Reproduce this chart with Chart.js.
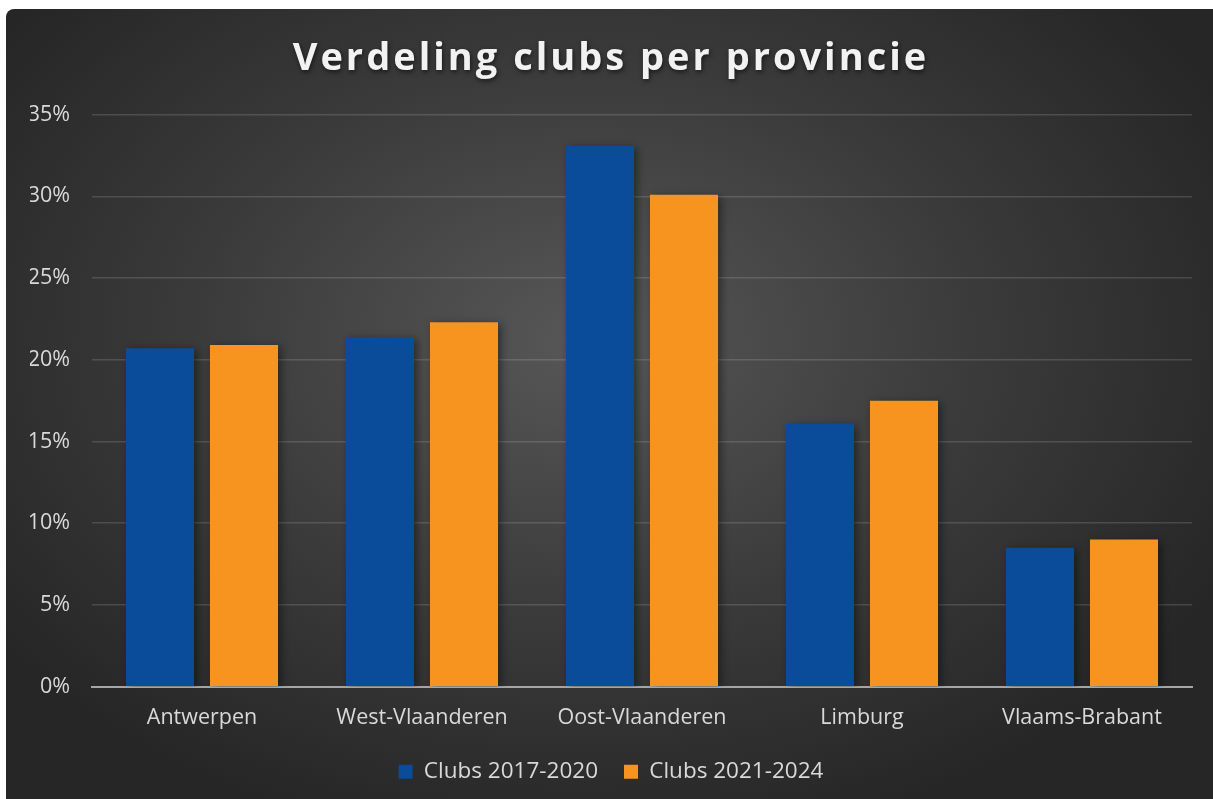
<!DOCTYPE html>
<html>
<head>
<meta charset="utf-8">
<script src="https://cdn.jsdelivr.net/npm/chart.js@4/dist/chart.umd.min.js"></script>
<style>
  html, body { margin: 0; padding: 0; background: #fff; }
  #wrap {
    position: absolute; left: 6px; top: 9px; width: 1207px; height: 790px;
    border-top-left-radius: 8px;
    background: radial-gradient(ellipse 60% 65% at 48% 42%, #575757 0%, #3a3a3a 55%, #262626 100%);
  }
</style>
</head>
<body>
<div id="wrap"><canvas id="grafiek"></canvas></div>
<script>
const provincies = ["Antwerpen", "West-Vlaanderen", "Oost-Vlaanderen", "Limburg", "Vlaams-Brabant"];
const clubs2017 = [20.7, 21.4, 33.1, 16.1, 8.5];
const clubs2021 = [20.9, 22.3, 30.1, 17.5, 9.0];
const yTicks = [0, 5, 10, 15, 20, 25, 30, 35];

const labelKleur = "#d9d9d9";
Chart.defaults.font.family = "'Open Sans', sans-serif";
Chart.defaults.color = labelKleur;

// letter spacing + shadow on the title
const titelStijl = {
  id: "titelStijl",
  afterLayout(chart) {
    const tb = chart.titleBlock;
    if (!tb || tb._gewrapt) return;
    const origDraw = tb.draw.bind(tb);
    tb.draw = function () {
      const ctx = chart.ctx;
      ctx.save();
      ctx.letterSpacing = "3px";
      ctx.shadowColor = "rgba(0,0,0,0.6)";
      ctx.shadowBlur = 5;
      ctx.shadowOffsetX = 1;
      ctx.shadowOffsetY = 2;
      origDraw();
      ctx.restore();
    };
    tb._gewrapt = true;
  },
};

// soft shadow behind the bars
const balkSchaduw = {
  id: "balkSchaduw",
  beforeDatasetsDraw(chart) {
    const ctx = chart.ctx;
    ctx.save();
    ctx.shadowColor = "rgba(0,0,0,0.45)";
    ctx.shadowBlur = 8;
    ctx.shadowOffsetX = 3;
    ctx.shadowOffsetY = 2;
  },
  afterDatasetsDraw(chart) {
    chart.ctx.restore();
  },
};

const ctx = document.querySelector("#grafiek");
new Chart(ctx, {
  type: "bar",
  data: {
    labels: provincies,
    datasets: [
      {
        label: "Clubs 2017-2020",
        data: clubs2017,
        backgroundColor: "#0b4c9a",
        borderWidth: 0,
      },
      {
        label: "Clubs 2021-2024",
        data: clubs2021,
        backgroundColor: "#f7941f",
        borderWidth: 0,
      },
    ],
  },
  options: {
    responsive: true,
    maintainAspectRatio: false,
    animation: false,
    categoryPercentage: 0.7636,
    barPercentage: 0.81,
    layout: { padding: { left: 24, right: 21, top: 27, bottom: 6 } },
    plugins: {
      title: {
        display: true,
        text: "Verdeling clubs per provincie",
        color: "#f2f2f2",
        font: { size: 38, weight: "bold" },
        padding: { top: 0, bottom: 33 },
      },
      legend: {
        position: "bottom",
        labels: {
          boxWidth: 14,
          boxHeight: 14,
          padding: 26,
          color: labelKleur,
          font: { size: 22.5 },
        },
      },
      tooltip: { enabled: false },
    },
    scales: {
      x: {
        // legend padding is wider for the item spacing, take it back here
        afterFit(scale) {
          scale.height -= 14;
        },
        grid: { display: false, drawTicks: false },
        border: { color: "#a6a6a6", width: 2 },
        ticks: { color: labelKleur, font: { size: 21.5 }, padding: 18 },
      },
      y: {
        min: 0,
        max: 35,
        afterBuildTicks(scale) {
          scale.ticks = yTicks.map((v) => ({ value: v }));
        },
        afterFit(scale) {
          scale.width = 62;
        },
        grid: { color: "rgba(255,255,255,0.14)", lineWidth: 1.5, drawTicks: false },
        border: { display: false },
        ticks: {
          color: labelKleur,
          font: { size: 21.5 },
          padding: 22,
          callback: (v) => v + "%",
        },
      },
    },
  },
  plugins: [titelStijl, balkSchaduw],
});
</script>
</body>
</html>
